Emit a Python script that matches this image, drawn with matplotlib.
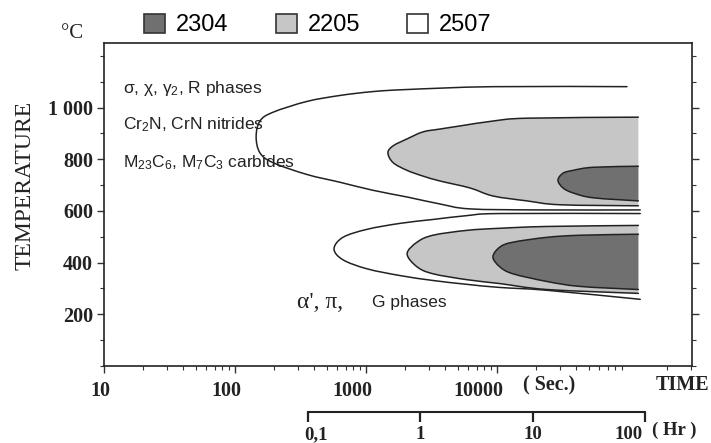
import numpy as np
import matplotlib
matplotlib.use('Agg')
import matplotlib.pyplot as plt
from matplotlib.patches import Patch, PathPatch
from matplotlib.path import Path
from matplotlib.transforms import ScaledTranslation
from matplotlib.ticker import FixedLocator, FixedFormatter, LogLocator, NullFormatter, NullLocator, MultipleLocator

plt.rcParams['mathtext.fontset'] = 'custom'
plt.rcParams['mathtext.rm'] = 'Liberation Sans'
plt.rcParams['mathtext.it'] = 'Liberation Sans:italic'
plt.rcParams['mathtext.bf'] = 'Liberation Sans:bold'

# ---------------- data (time in s, temperature in °C) ----------------
grades = ['2304', '2205', '2507']
grade_colors = ['#707070', '#c6c6c6', '#ffffff']

# upper domain (sigma, chi, nitrides, carbides): contour from upper-right end round the nose to lower-right end
up2507_t = [98200, 9310, 2060, 1130, 634, 355, 195, 155, 145, 155, 195, 355, 634, 1130, 2060, 3670, 6220, 21300, 124000]
up2507_T = [1081, 1081, 1070, 1062, 1047, 1024, 982, 948, 887, 825, 787, 741, 711, 680, 654, 627, 608, 604, 604]

up2205_t = [120000, 16900, 9310, 5220, 3670, 2720, 2060, 1610, 1470, 1610, 2060, 2720, 3670, 6220, 9310, 16900, 30300, 120000]
up2205_T = [963, 959, 948, 929, 917, 906, 879, 852, 825, 787, 757, 735, 716, 689, 658, 639, 624, 620]

up2304_t = [120000, 54000, 38000, 31900, 29200, 31900, 38000, 54000, 120000]
up2304_T = [773, 769, 757, 746, 719, 689, 670, 651, 639]

# lower domain (alpha', pi, G phases)
lo2507_t = [124000, 10500, 5900, 3240, 1820, 1020, 667, 570, 667, 1020, 1820, 3240, 5900, 10500, 24100, 124000]
lo2507_T = [590, 590, 582, 567, 552, 529, 498, 453, 411, 376, 350, 331, 316, 304, 293, 258]

lo2205_t = [120000, 24100, 10500, 5900, 3240, 2450, 2060, 2450, 3240, 5900, 10500, 24100, 120000]
lo2205_T = [544, 540, 533, 525, 506, 479, 434, 384, 357, 334, 319, 296, 281]

lo2304_t = [120000, 43000, 24100, 13200, 10500, 9310, 10500, 13200, 24100, 43000, 120000]
lo2304_T = [510, 506, 498, 479, 460, 422, 384, 357, 327, 308, 296]

temp_ticks = [200, 400, 600, 800, 1000]
temp_labels = ['200', '400', '600', '800', '1 000']
sec_ticks = [10, 100, 1000, 10000]
sec_labels = ['10', '100', '1000', '10000']
hr_ticks = [0.1, 1, 10, 100]
hr_labels = ['0,1', '1', '10', '100']


def smooth_path(t, T, closed=False):
    """Catmull-Rom curve through the read points, built as cubic Bezier segments
    (control points computed in log-time space so they render correctly on the log axis)."""
    u = np.log10(np.asarray(t, float))
    v = np.asarray(T, float)
    P = np.column_stack([u, v])
    n = len(P)
    verts = [P[0]]
    codes = [Path.MOVETO]
    for i in range(n - 1):
        p0 = P[i - 1] if i > 0 else P[i]
        p1 = P[i]
        p2 = P[i + 1]
        p3 = P[i + 2] if i + 2 < n else P[i + 1]
        c1 = p1 + (p2 - p0) / 6.0
        c2 = p2 - (p3 - p1) / 6.0
        verts += [c1, c2, p2]
        codes += [Path.CURVE4] * 3
    if closed:
        verts.append(P[0])
        codes.append(Path.LINETO)
        verts.append(P[0])
        codes.append(Path.CLOSEPOLY)
    verts = np.array(verts)
    verts[:, 0] = 10 ** verts[:, 0]
    return Path(verts, codes)


# ---------------- figure ----------------
W, H = 711, 443
fig = plt.figure(figsize=(W / 100, H / 100), dpi=100)


def fx(px):
    return px / W


def fy(py):
    return 1 - py / H


ax = fig.add_axes([fx(104), fy(366), fx(692) - fx(104), fy(43) - fy(366)])
ax.set_xscale('log')
ax.set_xlim(10, 10 ** (1 + 588 / 131))
ax.set_ylim(0, 1250)

edge = '#222222'


def draw_region(t, T, color=None):
    if color is not None:
        ax.add_patch(PathPatch(smooth_path(t, T, closed=True), facecolor=color, edgecolor='none', lw=0))
    ax.add_patch(PathPatch(smooth_path(t, T), facecolor='none', edgecolor=edge, lw=1.1,
                           joinstyle='round', capstyle='round'))


draw_region(up2507_t, up2507_T)
draw_region(up2205_t, up2205_T, grade_colors[1])
draw_region(up2304_t, up2304_T, grade_colors[0])
draw_region(lo2507_t, lo2507_T)
draw_region(lo2205_t, lo2205_T, grade_colors[1])
draw_region(lo2304_t, lo2304_T, grade_colors[0])

# axes styling
for s in ax.spines.values():
    s.set_linewidth(1.2)
    s.set_color(edge)
ax.yaxis.set_major_locator(FixedLocator(temp_ticks))
ax.yaxis.set_major_formatter(FixedFormatter(temp_labels))
ax.yaxis.set_minor_locator(MultipleLocator(100))
ax.xaxis.set_major_locator(FixedLocator(sec_ticks))
ax.xaxis.set_major_formatter(FixedFormatter(sec_labels))
ax.xaxis.set_minor_locator(LogLocator(base=10, subs=range(2, 10)))
ax.xaxis.set_minor_formatter(NullFormatter())
ax.tick_params(axis='both', which='major', direction='out', length=5, width=1, color='#333333', pad=3)
ax.tick_params(axis='both', which='minor', direction='out', length=3, width=0.8, color='#333333')
ax.tick_params(axis='y', which='both', right=True)
ax.tick_params(axis='x', which='major', pad=6)
for lab in ax.get_xticklabels() + ax.get_yticklabels():
    lab.set_fontfamily('Liberation Serif')
    lab.set_fontweight('bold')
    lab.set_fontsize(14.5)
    lab.set_color(edge)
shift_x = ScaledTranslation(6 / 100, 0, fig.dpi_scale_trans)
for lab in ax.get_xticklabels():
    lab.set_horizontalalignment('right')
    lab.set_transform(lab.get_transform() + shift_x)

# hour axis
axh = fig.add_axes([fx(308), fy(412), fx(645) - fx(308), 0.0001])
axh.set_xscale('log')
axh.set_xlim(0.1, 100)
axh.patch.set_visible(False)
for k in ['top', 'left', 'right']:
    axh.spines[k].set_visible(False)
axh.spines['bottom'].set_linewidth(1.5)
axh.spines['bottom'].set_color(edge)
axh.yaxis.set_major_locator(NullLocator())
axh.xaxis.set_major_locator(FixedLocator(hr_ticks))
axh.xaxis.set_major_formatter(FixedFormatter(hr_labels))
axh.xaxis.set_minor_locator(NullLocator())
axh.tick_params(axis='x', direction='out', length=7, width=1.6, color=edge, pad=3)
hlabs = axh.get_xticklabels()
for lab in hlabs:
    lab.set_fontfamily('Liberation Serif')
    lab.set_fontweight('bold')
    lab.set_fontsize(13.5)
    lab.set_color(edge)
hlabs[0].set_horizontalalignment('left')
hlabs[0].set_transform(hlabs[0].get_transform() + ScaledTranslation(-4 / 100, 0, fig.dpi_scale_trans))
hlabs[-1].set_horizontalalignment('right')
hlabs[-1].set_transform(hlabs[-1].get_transform() + ScaledTranslation(-2 / 100, 0, fig.dpi_scale_trans))

# legend
handles = [Patch(facecolor=c, edgecolor='#333333', lw=1.2) for c in grade_colors]
fig.legend(handles, grades, loc='center left', bbox_to_anchor=(fx(144), fy(25)),
           ncol=3, frameon=False, handlelength=0.9, handleheight=0.9, handletextpad=0.45,
           columnspacing=2.0, borderpad=0, borderaxespad=0,
           prop={'family': 'Liberation Sans', 'size': 17})

# axis titles and annotations
serif = 'Liberation Serif'
sans = 'Liberation Sans'
tc = edge
fig.text(fx(72), fy(33), '°C', family=serif, fontsize=15, ha='center', va='center', color=tc)
fig.text(fx(25), fy(185), 'TEMPERATURE', family=serif, fontsize=17, rotation=90,
         ha='center', va='center', color=tc)
fig.text(fx(709), fy(385), 'TIME', family=serif, fontweight='bold', fontsize=14.5,
         ha='right', va='center', color=tc)
fig.text(fx(523), fy(385), '( Sec.)', family=serif, fontweight='bold', fontsize=14.5,
         ha='left', va='center', color=tc)
fig.text(fx(652), fy(430), '( Hr )', family=serif, fontweight='bold', fontsize=13.5,
         ha='left', va='center', color=tc)

fig.text(fx(123), fy(89), r'σ, χ, γ$_{\mathregular{2}}$, R phases', family=sans, fontsize=12.5,
         ha='left', va='center', color=tc)
fig.text(fx(123), fy(125), r'Cr$_{\mathregular{2}}$N, CrN nitrides', family=sans, fontsize=12.5,
         ha='left', va='center', color=tc)
fig.text(fx(123), fy(163), r'M$_{\mathregular{23}}$C$_{\mathregular{6}}$, M$_{\mathregular{7}}$C$_{\mathregular{3}}$ carbides',
         family=sans, fontsize=12.5, ha='left', va='center', color=tc)
fig.text(fx(297), fy(302), "α', π,", family=serif, fontsize=17, ha='left', va='center', color=tc)
fig.text(fx(372), fy(303), 'G phases', family=sans, fontsize=12.5, ha='left', va='center', color=tc)

fig.savefig('out.png', dpi=100)
